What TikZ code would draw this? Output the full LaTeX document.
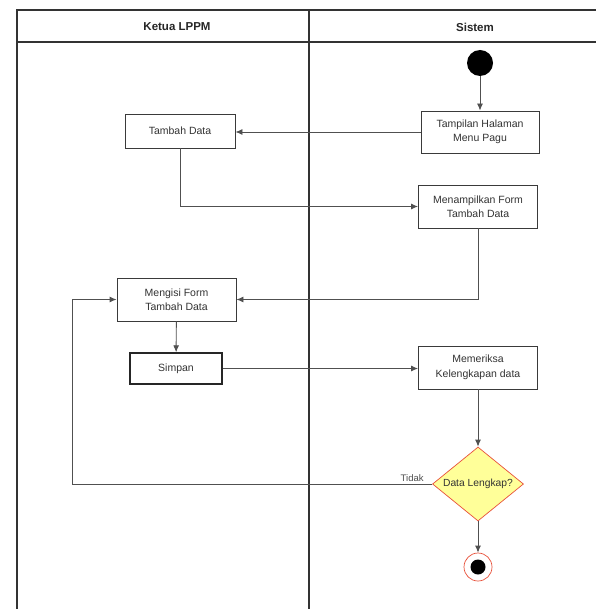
\documentclass[tikz,border=0pt]{standalone}
\usepackage{fontspec}
\setmainfont{Liberation Sans}
\usetikzlibrary{shapes.geometric,arrows.meta}

\definecolor{lane}{HTML}{333333}
\definecolor{boxline}{HTML}{3A3A3A}
\definecolor{wire}{HTML}{505050}
\definecolor{txt}{HTML}{333333}
\definecolor{decfill}{HTML}{FFFF99}
\definecolor{decline}{HTML}{E8503A}

\tikzset{
  lanerule/.style={draw=lane, line width=1.3pt},
  actbox/.style={draw=boxline, line width=0.9pt, fill=white, align=center,
    text=txt, inner sep=2pt, font=\fontsize{10.5}{14.5}\selectfont},
  wireline/.style={draw=wire, line width=0.9pt,
    -{Latex[length=7pt,width=6pt]}},
}

\begin{document}
\begin{tikzpicture}[x=1pt,y=-1pt]
  \useasboundingbox (0,0) rectangle (596,609);
  \fill[white] (0,0) rectangle (596,609);

  % swimlane frame
  \draw[lanerule] (17,609) -- (17,10) -- (596,10);
  \draw[lanerule] (17,42) -- (596,42);
  \draw[lanerule] (309,10) -- (309,609);
  \node[font=\bfseries\fontsize{11.5}{13}\selectfont, text=black!85] (hdrA) at (177,27) {Ketua LPPM};
  \node[font=\bfseries\fontsize{11.5}{13}\selectfont, text=black!85] (hdrB) at (475,27) {Sistem};

  % activities
  \node[circle, fill=black, minimum size=26pt, inner sep=0] (start) at (480,63) {};
  \node[actbox, minimum width=118pt, minimum height=42pt] (tampil) at (480,132) {Tampilan Halaman\\Menu Pagu};
  \node[actbox, minimum width=110pt, minimum height=34pt] (tambah) at (180,131) {Tambah Data};
  \node[actbox, minimum width=119pt, minimum height=43pt] (form) at (478,206.5) {Menampilkan Form\\Tambah Data};
  \node[actbox, minimum width=119pt, minimum height=43pt] (isi) at (176.5,299.5) {Mengisi Form\\Tambah Data};
  \node[actbox, line width=1.4pt, draw=black!85, minimum width=92pt, minimum height=31pt] (simpan) at (176,368.5) {Simpan};
  \node[actbox, minimum width=119pt, minimum height=43pt] (cek) at (478,367.5) {Memeriksa\\Kelengkapan data};
  \node[diamond, aspect=1.23, draw=decline, line width=0.7pt, fill=decfill, minimum width=91pt,
        minimum height=74pt, inner sep=0pt, text=black!80,
        font=\fontsize{10.3}{12}\selectfont] (dec) at (478,484) {Data Lengkap?};
  \node[circle, draw=decline, line width=0.7pt, fill=white, minimum size=28pt, inner sep=0] (stop) at (478,567) {};
  \node[circle, fill=black, minimum size=15pt, inner sep=0] (stopdot) at (478,567) {};

  % flows
  \draw[wireline] (start) -- (tampil);
  \draw[wireline] (tampil.west) -- (tambah.east |- tampil.west);
  \draw[wireline] (tambah.south) |- (form.west);
  \draw[wireline] (form.south) |- (isi.east);
  \draw[wireline] (isi) -- (simpan);
  \draw[wireline] (simpan.east) -- (cek.west |- simpan.east);
  \draw[wireline] (cek) -- (dec);
  \coordinate (back) at (72,484);
  \draw[wireline] (dec.west) -- (back) |- (isi.west);
  \node[font=\fontsize{9.5}{11}\selectfont, text=black!70, anchor=south east] (tidak) at ([xshift=-5pt,yshift=-1pt]dec.west) {Tidak};
  \draw[wireline] (dec) -- (stop);
\end{tikzpicture}
\end{document}
